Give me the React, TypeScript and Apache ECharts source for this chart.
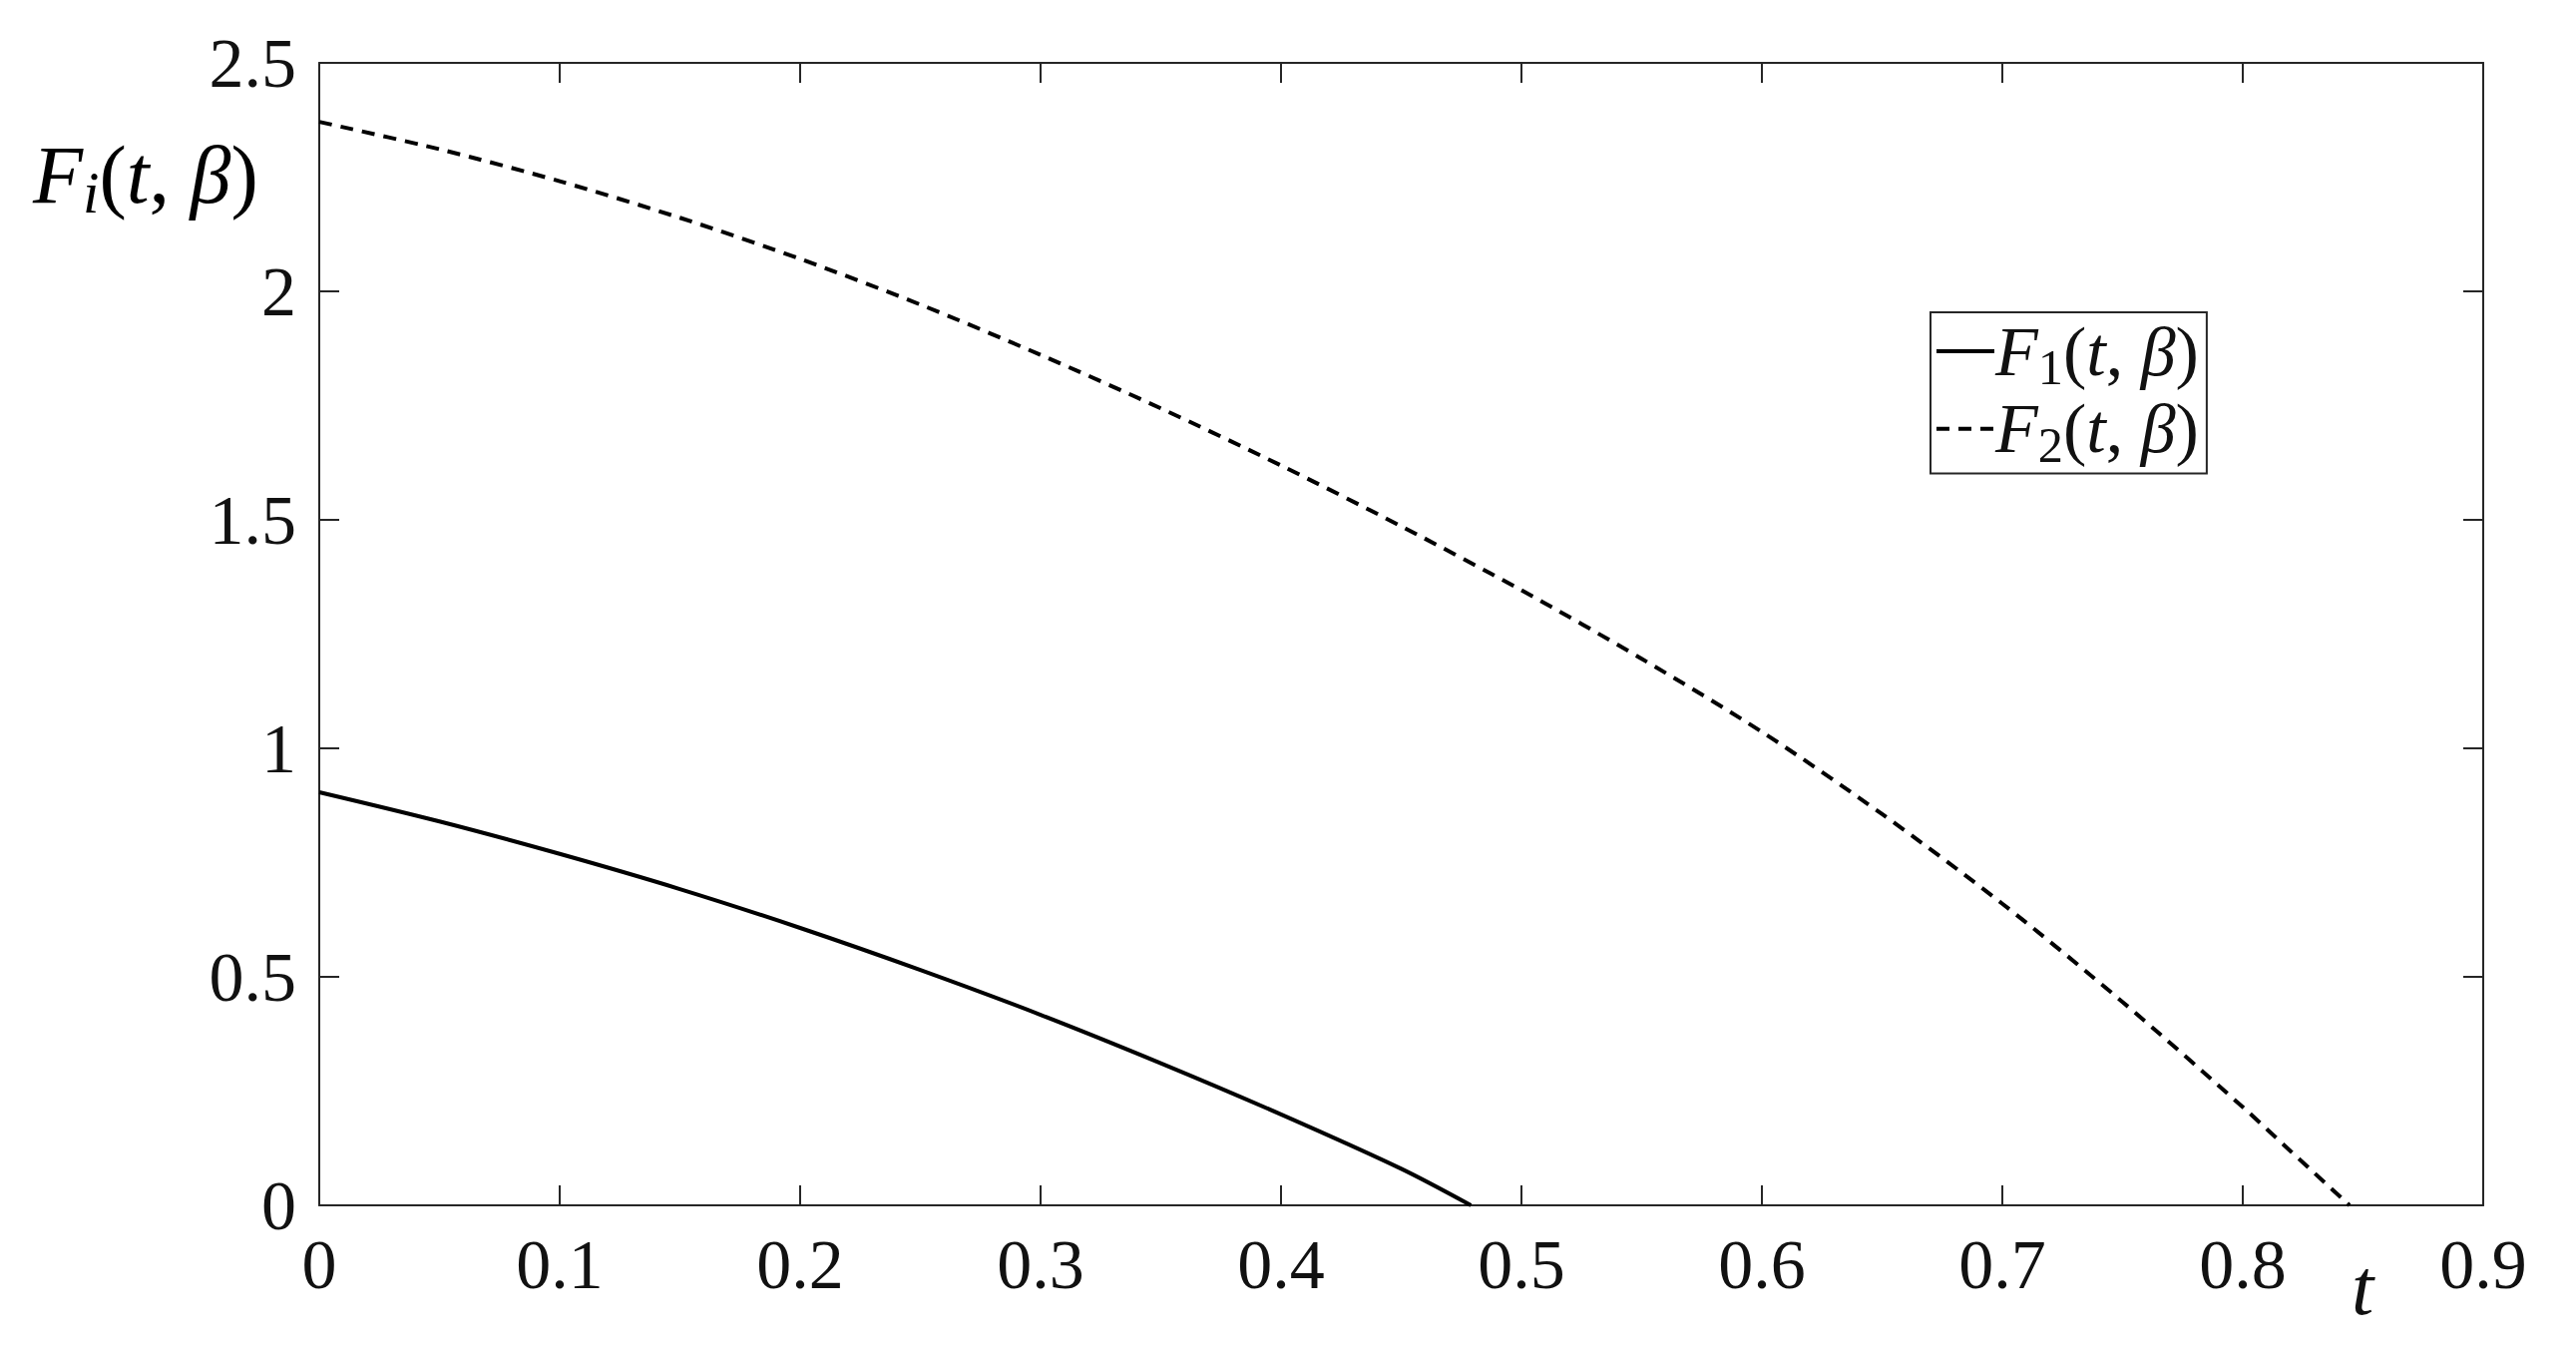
import React, { useEffect, useRef } from "react";
import * as echarts from "echarts";

const tValues1 = [0, 0.05, 0.1, 0.15, 0.2, 0.25, 0.3, 0.35, 0.4, 0.45, 0.479];
const f1Values = [0.904, 0.84, 0.769, 0.692, 0.607, 0.515, 0.417, 0.311, 0.199, 0.08, 0];

const tValues2 = [0, 0.05, 0.1, 0.15, 0.2, 0.25, 0.3, 0.35, 0.4, 0.45, 0.5, 0.55, 0.6, 0.65, 0.7, 0.75, 0.8, 0.82, 0.8444];
const f2Values = [2.371, 2.311, 2.241, 2.161, 2.071, 1.971, 1.861, 1.744, 1.619, 1.486, 1.346, 1.196, 1.036, 0.856, 0.66, 0.445, 0.215, 0.118, 0];

const seriesNames = ["F1", "F2"];

const FONT = "Liberation Serif";
const INK = "#262626";

const mathRich = (size: number) => ({
  it: { fontFamily: FONT, fontStyle: "italic", fontSize: size, color: "#111" },
  p: { fontFamily: FONT, fontSize: size, color: "#111" },
  sub: { fontFamily: FONT, fontSize: size * 0.72, color: "#111", verticalAlign: "bottom", padding: [size * 0.45, 0, 0, 0] },
  subi: { fontFamily: FONT, fontStyle: "italic", fontSize: size * 0.72, color: "#111", verticalAlign: "bottom", padding: [size * 0.45, 0, 0, 0] },
});

export default function App() {
  const ref = useRef<HTMLDivElement>(null);
  useEffect(() => {
    if (!ref.current) return;
    const chart = echarts.init(ref.current, null, { renderer: "svg" });
    const axisCommon = {
      type: "value" as const,
      axisLine: { show: true, onZero: false, lineStyle: { color: INK, width: 2 } },
      axisTick: { show: true, inside: true, length: 20, lineStyle: { color: INK, width: 2 } },
      splitLine: { show: false },
    };
    chart.setOption({
      animation: false,
      backgroundColor: "#ffffff",
      grid: { left: 320, right: 93, top: 63, bottom: 149, containLabel: false },
      xAxis: [
        {
          ...axisCommon,
          position: "bottom",
          min: 0,
          max: 0.9,
          interval: 0.1,
          axisLabel: { fontFamily: FONT, fontSize: 70, color: "#111", margin: 24 },
        },
        {
          ...axisCommon,
          position: "top",
          min: 0,
          max: 0.9,
          interval: 0.1,
          axisLabel: { show: false },
        },
      ],
      yAxis: [
        {
          ...axisCommon,
          position: "left",
          min: 0,
          max: 2.5,
          interval: 0.5,
          axisLabel: { fontFamily: FONT, fontSize: 70, color: "#111", margin: 23 },
        },
        {
          ...axisCommon,
          position: "right",
          min: 0,
          max: 2.5,
          interval: 0.5,
          axisLabel: { show: false },
        },
      ],
      legend: {
        orient: "vertical",
        left: 1935,
        top: 313,
        borderColor: INK,
        borderWidth: 2,
        padding: [4, 8, 4, 4],
        itemGap: 2,
        itemWidth: 58,
        itemHeight: 20,
        backgroundColor: "#fff",
        itemStyle: { opacity: 0 },
        lineStyle: { width: 4 },
        data: seriesNames,
        formatter: (name: string) =>
          name === "F1"
            ? "{it|F}{sub|1}{p|(}{it|t}{p|, }{it|β}{p|)}"
            : "{it|F}{sub|2}{p|(}{it|t}{p|, }{it|β}{p|)}",
        textStyle: { fontFamily: FONT, fontSize: 70, padding: [0, 0, 0, -4], rich: mathRich(70) },
      },
      graphic: [
        {
          type: "text",
          x: 33,
          y: 175,
          style: {
            text: "{it|F}{subi|i}{p|(}{it|t}{p|, }{it|β}{p|)}",
            align: "left",
            verticalAlign: "middle",
            rich: mathRich(82),
          },
        },
        {
          type: "text",
          x: 2368,
          y: 1290,
          style: {
            text: "t",
            fontFamily: FONT,
            fontStyle: "italic",
            fontSize: 80,
            fill: "#111",
            align: "center",
            verticalAlign: "middle",
          },
        },
      ],
      series: [
        {
          name: "F1",
          type: "line",
          symbol: "none",
          smooth: 0.3,
          data: tValues1.map((t, i) => [t, f1Values[i]]),
          lineStyle: { color: "#000", width: 4, type: "solid" },
          itemStyle: { color: "#000" },
        },
        {
          name: "F2",
          type: "line",
          symbol: "none",
          smooth: 0.3,
          data: tValues2.map((t, i) => [t, f2Values[i]]),
          lineStyle: { color: "#000", width: 4, type: [13, 9] },
          itemStyle: { color: "#000" },
        },
      ],
    });
    return () => chart.dispose();
  }, []);
  return (
    <div
      ref={ref}
      style={{ position: "absolute", left: 0, top: 0, width: 2582, height: 1357 }}
    />
  );
}
